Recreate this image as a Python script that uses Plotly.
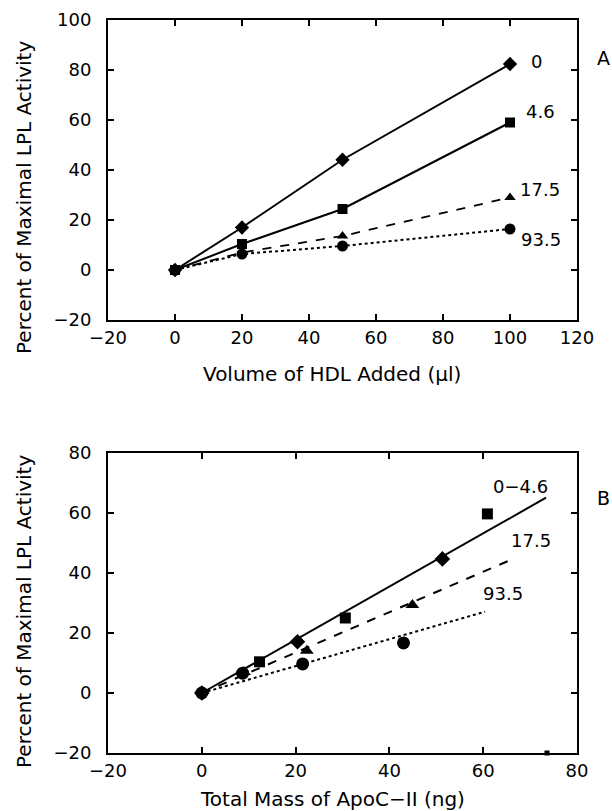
import plotly.graph_objects as go

W, H = 612, 811

# ---------------- Panel A data ----------------
volA = [0, 20, 50, 100]
a_0 = [0, 17, 44.1, 82.4]
a_46 = [0, 10.4, 24.4, 59.0]
a_175 = [0, 7.0, 13.6, 29.0]
a_935 = [0, 6.4, 9.6, 16.4]

labelsA = ["0", "4.6", "17.5", "93.5"]
labelsA_x = [105.7, 104.2, 102.4, 102.7]
labelsA_y = [83.6, 63.6, 32.4, 12.4]

# ---------------- Panel B data ----------------
massB_0 = [0, 20.4, 51.3]
actB_0 = [0, 17.1, 44.7]
massB_46 = [12.3, 30.6, 60.9]
actB_46 = [10.4, 25.0, 59.7]
massB_175 = [9.0, 22.4, 44.9]
actB_175 = [7.0, 14.1, 29.3]
massB_935 = [0, 8.7, 21.5, 43.0]
actB_935 = [0, 6.6, 9.7, 16.7]
massB_extra = [73.6]
actB_extra = [-20]

fitB_x_046 = [0, 73.4]
fitB_y_046 = [0, 65.1]
fitB_x_175 = [0, 66.8]
fitB_y_175 = [0, 45.0]
fitB_x_935 = [0, 60.4]
fitB_y_935 = [0, 27.1]

labelsB = ["0\u22124.6", "17.5", "93.5"]
labelsB_x = [61.7, 65.5, 59.6]
labelsB_y = [69.0, 51.0, 33.3]

FONT = "DejaVu Sans"
BLACK = "#000000"

def px(x):
    return x / W

def py(y):
    return 1 - y / H

fig = go.Figure()

# Panel A traces
fig.add_trace(go.Scatter(x=volA, y=a_0, mode="lines+markers", xaxis="x", yaxis="y",
                         line=dict(color=BLACK, width=2, dash="solid"),
                         marker=dict(symbol="diamond", size=11, color=BLACK)))
fig.add_trace(go.Scatter(x=volA, y=a_46, mode="lines+markers", xaxis="x", yaxis="y",
                         line=dict(color=BLACK, width=2, dash="solid"),
                         marker=dict(symbol="square", size=10, color=BLACK)))
fig.add_trace(go.Scatter(x=volA, y=a_175, mode="lines+markers", xaxis="x", yaxis="y",
                         line=dict(color=BLACK, width=1.8, dash="dash"),
                         marker=dict(symbol="triangle-up", size=10, color=BLACK)))
fig.add_trace(go.Scatter(x=volA, y=a_935, mode="lines+markers", xaxis="x", yaxis="y",
                         line=dict(color=BLACK, width=2, dash="dot"),
                         marker=dict(symbol="circle", size=11, color=BLACK)))

# Panel B fit lines
fig.add_trace(go.Scatter(x=fitB_x_046, y=fitB_y_046, mode="lines", xaxis="x2", yaxis="y2",
                         line=dict(color=BLACK, width=2, dash="solid")))
fig.add_trace(go.Scatter(x=fitB_x_175, y=fitB_y_175, mode="lines", xaxis="x2", yaxis="y2",
                         line=dict(color=BLACK, width=2, dash="dash")))
fig.add_trace(go.Scatter(x=fitB_x_935, y=fitB_y_935, mode="lines", xaxis="x2", yaxis="y2",
                         line=dict(color=BLACK, width=2, dash="dot")))

# Panel B points
fig.add_trace(go.Scatter(x=massB_175, y=actB_175, mode="markers", xaxis="x2", yaxis="y2",
                         marker=dict(symbol="triangle-up", size=12, color=BLACK)))
fig.add_trace(go.Scatter(x=massB_0, y=actB_0, mode="markers", xaxis="x2", yaxis="y2",
                         marker=dict(symbol="diamond", size=12, color=BLACK)))
fig.add_trace(go.Scatter(x=massB_46, y=actB_46, mode="markers", xaxis="x2", yaxis="y2",
                         marker=dict(symbol="square", size=11, color=BLACK)))
fig.add_trace(go.Scatter(x=massB_935, y=actB_935, mode="markers", xaxis="x2", yaxis="y2",
                         marker=dict(symbol="circle", size=13, color=BLACK)))
fig.add_trace(go.Scatter(x=massB_extra, y=actB_extra, mode="markers", xaxis="x2", yaxis="y2",
                         cliponaxis=False,
                         marker=dict(symbol="square", size=5, color=BLACK)))

axis_common = dict(
    showgrid=False, zeroline=False, showline=True, linecolor=BLACK, linewidth=2,
    mirror="ticks", ticks="inside", ticklen=6, tickwidth=1.5, tickcolor=BLACK,
    automargin=False,
    tickfont=dict(family=FONT, size=18, color=BLACK),
)

annotations = []
for t, xx, yy in zip(labelsA, labelsA_x, labelsA_y):
    annotations.append(dict(text=t, x=xx, y=yy, xref="x", yref="y", xanchor="left",
                            yanchor="middle", showarrow=False,
                            font=dict(family=FONT, size=18, color=BLACK)))
for t, xx, yy in zip(labelsB, labelsB_x, labelsB_y):
    annotations.append(dict(text=t, x=xx, y=yy, xref="x2", yref="y2", xanchor="left",
                            yanchor="middle", showarrow=False,
                            font=dict(family=FONT, size=18, color=BLACK)))

annotations += [
    dict(text="A", x=px(595), y=py(58), xref="paper", yref="paper", xanchor="left",
         yanchor="middle", showarrow=False, font=dict(family=FONT, size=19, color=BLACK)),
    dict(text="B", x=px(595), y=py(498), xref="paper", yref="paper", xanchor="left",
         yanchor="middle", showarrow=False, font=dict(family=FONT, size=19, color=BLACK)),
    dict(text="Volume of HDL Added (\u03bcl)", x=px(332), y=py(374), xref="paper", yref="paper",
         xanchor="center", yanchor="middle", showarrow=False,
         font=dict(family=FONT, size=20, color=BLACK)),
    dict(text="Total Mass of ApoC\u2212II (ng)", x=px(332), y=py(799), xref="paper", yref="paper",
         xanchor="center", yanchor="middle", showarrow=False,
         font=dict(family=FONT, size=20, color=BLACK)),
    dict(text="Percent of Maximal LPL Activity", x=px(24), y=py(198), xref="paper", yref="paper",
         xanchor="center", yanchor="middle", textangle=-90, showarrow=False,
         font=dict(family=FONT, size=20, color=BLACK)),
    dict(text="Percent of Maximal LPL Activity", x=px(24), y=py(612), xref="paper", yref="paper",
         xanchor="center", yanchor="middle", textangle=-90, showarrow=False,
         font=dict(family=FONT, size=20, color=BLACK)),
]

fig.update_layout(
    width=W, height=H,
    margin=dict(l=0, r=0, t=0, b=0),
    paper_bgcolor="white", plot_bgcolor="white",
    showlegend=False,
    xaxis=dict(domain=[px(108), px(577)], range=[-20, 120], tickvals=[-20, 0, 20, 40, 60, 80, 100, 120],
               ticktext=["\u221220", "0", "20", "40", "60", "80", "100", "120"],
               anchor="y", **axis_common),
    yaxis=dict(domain=[py(320), py(20)], range=[-20, 100], tickvals=[-20, 0, 20, 40, 60, 80, 100],
               ticktext=["\u221220", "0", "20", "40", "60", "80", "100"],
               anchor="x", ticklabelstandoff=11, **axis_common),
    xaxis2=dict(domain=[px(108), px(577)], range=[-20, 80], tickvals=[-20, 0, 20, 40, 60, 80],
                ticktext=["\u221220", "0", "20", "40", "60", "80"],
                anchor="y2", **axis_common),
    yaxis2=dict(domain=[py(753), py(453)], range=[-20, 80], tickvals=[-20, 0, 20, 40, 60, 80],
                ticktext=["\u221220", "0", "20", "40", "60", "80"],
                anchor="x2", ticklabelstandoff=11, **axis_common),
    annotations=annotations,
)

fig.write_html("out.html", config={"displayModeBar": False},
               post_script="document.body.style.margin='0';document.body.style.overflow='hidden';")
